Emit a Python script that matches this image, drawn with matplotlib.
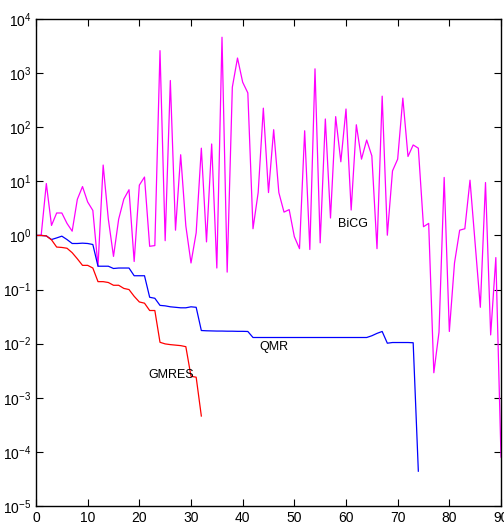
import matplotlib
matplotlib.use('Agg')
import matplotlib.pyplot as plt
import numpy as np

plt.rcParams['font.family'] = ['Liberation Sans', 'DejaVu Sans']

# residual norms per iteration
gmres = [1.0, 1.0, 0.98, 0.83, 0.61, 0.6, 0.58, 0.48, 0.37, 0.28, 0.28, 0.25,
         0.14, 0.14, 0.135, 0.12, 0.12, 0.105, 0.1, 0.075, 0.059, 0.056, 0.041,
         0.041, 0.0106, 0.0099, 0.0096, 0.0094, 0.0092, 0.0088, 0.0025, 0.0024,
         0.00046]

qmr = [1.0, 1.0, 0.98, 0.84, 0.9, 0.97, 0.84, 0.71, 0.71, 0.72, 0.71, 0.68,
       0.27, 0.27, 0.27, 0.245, 0.25, 0.25, 0.25, 0.18, 0.18, 0.18, 0.072,
       0.069, 0.051, 0.05, 0.048, 0.047, 0.046, 0.046, 0.048, 0.047, 0.0175,
       0.0173, 0.0172, 0.0171, 0.0171, 0.017, 0.017, 0.0169, 0.0169, 0.0168,
       0.013, 0.013, 0.013, 0.013, 0.013, 0.013, 0.013, 0.013, 0.013, 0.013,
       0.013, 0.013, 0.013, 0.013, 0.013, 0.013, 0.013, 0.013, 0.013, 0.013,
       0.013, 0.013, 0.013, 0.014, 0.0155, 0.0168, 0.0102, 0.0105, 0.0105,
       0.0105, 0.0105, 0.0104, 4.4e-5]

bicg = [1.0, 1.0, 9.1, 1.53, 2.6, 2.6, 1.67, 1.2, 4.65, 8.0, 4.15, 2.9,
        0.27, 20.0, 2.0, 0.41, 2.0, 4.7, 7.0, 0.33, 8.5, 12.0, 0.63, 0.65,
        2600.0, 0.8, 730.0, 1.25, 31.0, 1.5, 0.31, 1.12, 41.0, 0.76, 49.0,
        0.25, 4600.0, 0.21, 550.0, 1900.0, 680.0, 430.0, 1.33, 6.2, 225.0,
        6.2, 90.0, 6.2, 2.7, 3.0, 0.95, 0.57, 86.0, 0.55, 1200.0, 0.73, 142.0,
        2.1, 157.0, 23.0, 217.0, 2.95, 111.0, 25.7, 58.0, 29.6, 0.57, 375.0,
        1.01, 15.6, 25.7, 345.0, 28.8, 47.0, 41.0, 1.45, 1.67, 0.0029, 0.0163,
        11.8, 0.0168, 0.31, 1.25, 1.33, 10.5, 0.7, 0.047, 9.5, 0.0145, 0.39,
        8e-5]

fig = plt.figure(figsize=(5.04, 5.24), dpi=100)
ax = fig.add_axes([36 / 504, 18 / 524, 465 / 504, 487 / 524])

ax.semilogy(np.arange(len(bicg)), bicg, color='#ff00ff', lw=0.9)
ax.semilogy(np.arange(len(qmr)), qmr, color='#0000ff', lw=0.9)
ax.semilogy(np.arange(len(gmres)), gmres, color='#ff0000', lw=0.9)

ax.text(58.4, 1.6, 'BiCG', fontsize=9, va='center', ha='left')
ax.text(43.2, 0.0087, 'QMR', fontsize=9, va='center', ha='left')
ax.text(21.7, 0.0026, 'GMRES', fontsize=9, va='center', ha='left')

ax.set_xlim(0, 90)
ax.set_ylim(1e-5, 1e4)
ax.set_xticks(np.arange(0, 91, 10))
ax.set_yticks([10.0 ** k for k in range(-5, 5)])
ax.tick_params(which='both', direction='in', top=True, right=True,
               labelsize=10, width=0.8)
ax.tick_params(which='major', length=5)
ax.tick_params(which='minor', length=2.5)
ax.tick_params(axis='x', which='minor', bottom=False, top=False)
for s in ax.spines.values():
    s.set_linewidth(1.0)

fig.savefig('out.png', dpi=100)
